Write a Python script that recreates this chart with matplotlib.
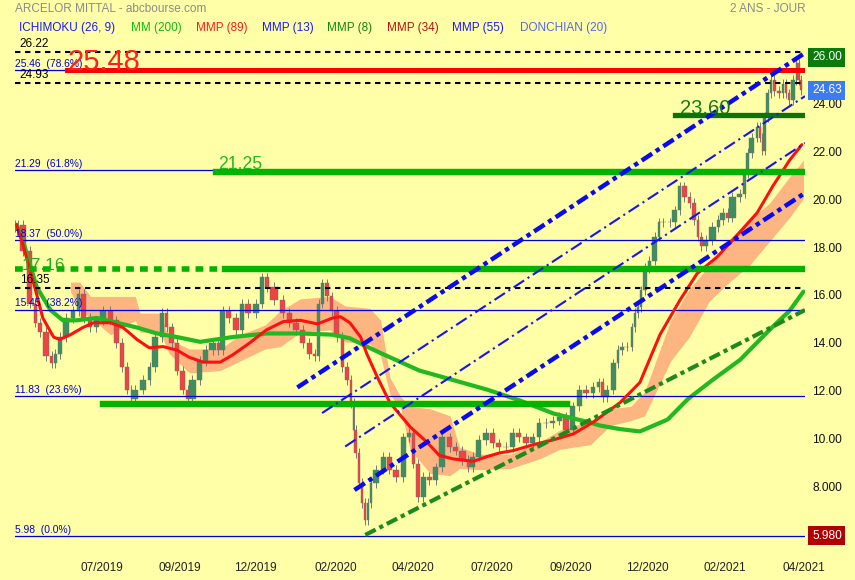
import matplotlib.pyplot as plt
import matplotlib.transforms as mtransforms
import numpy as np

plt.rcParams['font.family'] = ['Liberation Sans', 'DejaVu Sans']

# price samples: trading-day index (0 = start of the 2-year window) and close
days = [1, 3, 8, 12, 15, 18, 23, 25, 28, 31, 36, 40, 43, 47, 51, 55, 60, 64, 68, 71,
        75, 76, 81, 86, 89, 94, 97, 100, 104, 107, 111, 113, 118, 122, 126, 131, 133, 137, 141, 146,
        149, 154, 159, 162, 165, 172, 176, 180, 185, 189, 193, 196, 198, 201, 204, 207, 211, 214, 217, 219,
        220, 222, 224, 226, 228, 230, 232, 237, 241, 245, 250, 254, 257, 260, 263, 267, 271, 275, 280, 284,
        288, 293, 295, 299, 303, 308, 312, 316, 321, 325, 329, 334, 338, 342, 347, 351, 355, 360, 364, 368,
        373, 377, 380, 382, 386, 390, 392, 395, 399, 401, 403, 405, 407, 410, 413, 417, 418, 423, 426, 430,
        432, 436, 439, 442, 444, 446, 450, 455, 457, 461, 463, 468, 472, 474, 476, 480, 482, 484, 485, 487,
        489, 491, 494, 497, 499, 501, 503, 506, 507, 509, 510]
closes = [18.9, 19.0, 17.9, 15.7, 14.9, 14.5, 13.5, 13.2, 13.6, 14.3, 15.1, 15.4, 16.1, 15.1, 14.7, 15.0, 15.4, 15.0, 14.05, 13.05,
          12.1, 11.7, 12.1, 12.5, 13.05, 14.3, 15.3, 14.7, 14.05, 12.9, 12.1, 11.7, 12.5, 13.3, 13.75, 14.05, 13.75, 15.4, 15.1, 14.6,
          15.7, 15.3, 15.7, 16.8, 16.4, 15.85, 15.3, 14.9, 14.6, 14.05, 13.6, 13.5, 15.7, 16.55, 16.0, 15.4, 14.3, 13.05, 12.5, 11.55,
          10.4, 9.45, 8.2, 7.35, 6.65, 7.35, 8.2, 8.75, 9.3, 8.75, 8.45, 10.1, 10.3, 9.0, 7.6, 8.45, 8.3, 8.85, 10.1, 9.7,
          9.55, 9.15, 8.85, 9.3, 10.0, 10.3, 9.85, 9.7, 9.7, 10.3, 10.1, 9.85, 10.1, 10.7, 10.7, 10.8, 10.95, 10.4, 11.4, 12.1,
          11.95, 12.2, 12.4, 11.8, 12.1, 13.2, 13.75, 13.9, 13.9, 14.7, 15.3, 15.55, 16.25, 17.2, 17.5, 18.5, 19.1, 19.1, 19.1, 19.6,
          20.6, 20.15, 19.9, 19.2, 18.5, 18.1, 18.35, 18.9, 19.2, 19.5, 19.3, 20.15, 20.3, 21.15, 22.0, 22.65, 23.1, 22.65, 22.1, 23.5,
          24.5, 25.05, 24.6, 24.5, 24.9, 24.5, 24.2, 25.05, 25.75, 25.05, 24.63]
first_open = 19.0

# MM (200)
ma200_days = [1, 5, 14, 23, 31, 40, 53, 66, 79, 92, 105, 120, 141, 163, 185, 206, 217, 228, 238, 250,
              262, 284, 306, 327, 349, 371, 379, 392, 405, 423, 436, 452, 470, 489, 502, 511]
ma200 = [19.0, 18.36, 16.4, 15.43, 15.0, 15.0, 15.1, 14.9, 14.7, 14.45, 14.3, 14.1, 14.3, 14.45, 14.45, 14.4, 14.25, 13.9, 13.6, 13.25,
         12.9, 12.5, 12.1, 11.65, 11.1, 10.75, 10.6, 10.45, 10.35, 10.85, 11.7, 12.5, 13.35, 14.6, 15.4, 16.2]

# MMP (red)
mmp_days = [1, 5, 14, 18, 25, 29, 36, 44, 51, 62, 70, 79, 87, 96, 105, 113, 122, 133, 141, 152,
            163, 174, 185, 196, 206, 211, 217, 224, 228, 235, 243, 256, 267, 275, 284, 297, 306, 314, 323, 336,
            349, 362, 375, 392, 405, 418, 431, 442, 455, 465, 481, 491, 502, 510]
mmp = [19.0, 18.2, 16.1, 15.1, 14.3, 14.2, 14.4, 14.7, 14.9, 14.9, 14.7, 14.2, 13.85, 13.9, 13.75, 13.45, 13.25, 13.25, 13.55, 14.05,
       14.6, 14.95, 15.0, 14.85, 15.1, 15.15, 14.9, 14.3, 13.6, 12.6, 11.55, 10.55, 9.9, 9.35, 9.2, 9.1, 9.3, 9.45, 9.55, 9.8,
       10.0, 10.25, 10.75, 11.55, 12.4, 14.4, 15.85, 16.95, 17.65, 18.35, 19.5, 20.6, 21.7, 22.35]

# Ichimoku cloud edges
cloud_days = [36, 42, 49, 62, 78, 81, 94, 100, 113, 133, 146, 162, 172, 185, 204, 214, 230, 237, 243, 250,
              256, 269, 282, 288, 301, 321, 340, 353, 373, 386, 399, 408, 425, 437, 450, 463, 476, 489, 502, 511]
cloud_top = [16.6, 16.6, 16.0, 16.0, 16.0, 15.3, 15.3, 14.2, 13.8, 13.8, 14.4, 14.8, 15.4, 15.9, 16.0, 15.6, 15.5, 15.0, 12.6, 11.8,
             11.4, 11.3, 11.0, 9.7, 9.4, 9.4, 9.9, 10.4, 10.8, 11.3, 11.4, 12.0, 15.0, 16.3, 17.3, 18.4, 19.2, 19.9, 21.0, 21.7]
cloud_bot = [16.2, 15.4, 15.1, 14.4, 15.0, 14.5, 14.5, 13.6, 12.8, 12.9, 13.3, 13.8, 13.9, 14.5, 14.6, 14.1, 14.0, 13.5, 11.9, 11.3,
             9.6, 8.6, 8.5, 8.8, 8.75, 8.8, 9.2, 9.6, 9.8, 10.6, 10.8, 11.0, 13.3, 14.3, 15.8, 16.6, 17.3, 18.3, 19.3, 20.1]

fib_levels = [25.46, 21.29, 18.37, 15.45, 11.83, 5.98]
fib_pcts = ['78.6%', '61.8%', '50.0%', '38.2%', '23.6%', '0.0%']
dashed_levels = [26.22, 24.93, 16.35]

# channel lines drawn on the chart: (day0, day1), (price0, price1)
blue_thick = [((183, 512), (12.19, 26.19)), ((220, 512), (7.9, 20.33))]
blue_thin = [((199, 512), (11.12, 24.38)), ((214, 512), (9.72, 22.42))]
green_trend = ((227, 512), (6.02, 15.43))

date_pos = [56, 107, 156, 208, 258, 309, 360, 410, 460, 511]
date_labels = ['07/2019', '09/2019', '12/2019', '02/2020', '04/2020',
               '07/2020', '09/2020', '12/2020', '02/2021', '04/2021']
right_ticks = [24, 22, 20, 18, 16, 14, 12, 10, 8]
right_labels = ['24.00', '22.00', '20.00', '18.00', '16.00', '14.00', '12.00', '10.00', '8.000']

legend = [('ICHIMOKU (26, 9)', '#1a1aff'), ('MM (200)', '#11bb11'), ('MMP (89)', '#ff1a1a'),
          ('MMP (13)', '#1a1aff'), ('MMP (8)', '#118811'), ('MMP (34)', '#bb1111'),
          ('MMP (55)', '#1a1aff'), ('DONCHIAN (20)', '#5566ee')]
legend_x = [19, 131, 196, 262, 327, 387, 452, 520]

bg = '#FFFFA8'
fig = plt.figure(figsize=(8.55, 5.8), dpi=100)
fig.patch.set_facecolor(bg)
ax = fig.add_axes([15 / 855, 1 - 555 / 580, 790 / 855, 515 / 580])
ax.set_facecolor(bg)
ax.set_xlim(0, 512)
ax.set_ylim(5.18, 26.73)
for s in ax.spines.values():
    s.set_visible(False)
ax.set_xticks([])
ax.set_yticks([])

# cloud
ax.fill_between(cloud_days, cloud_bot, cloud_top, color='#FDB582', lw=0, zorder=1)

# candles
d = np.array(days, dtype=float)
c = np.array(closes)
o = np.array([first_open] + closes[:-1])
left = np.concatenate([[d[0] - 1.5], d[:-1]])
w = (d - left) * 0.8
cols = np.where(c >= o, '#3E8E62', '#EE4444')
mid = left + w / 2
ax.vlines(mid, np.minimum(o, c) - 0.2, np.maximum(o, c) + 0.2, color='#777777', lw=0.7, zorder=2)
ax.bar(left, c - o, bottom=o, width=w, align='edge', color=cols,
       edgecolor='#6f6f6f', lw=0.3, zorder=3)

# moving averages
ax.plot(ma200_days, ma200, color='#22B822', lw=3.0, zorder=4, solid_capstyle='round')
ax.plot(mmp_days, mmp, color='#FF1010', lw=2.2, zorder=5, solid_capstyle='round')

# fibonacci levels
for lv, pct in zip(fib_levels, fib_pcts):
    ax.axhline(lv, color='#0000DD', lw=0.9, zorder=4)
    ax.text(0, lv + 0.05, f'{lv:.2f}  ({pct})', color='#0000DD', fontsize=7.4,
            ha='left', va='bottom', zorder=8)

for lv in dashed_levels:
    ax.axhline(lv, color='black', lw=1.5, dashes=(2.6, 2.2), zorder=6)
    ax.text(3, lv + 0.08, f'{lv:.2f}', color='black', fontsize=8.5, ha='left', va='bottom', zorder=8)

# support / resistance lines
ax.plot([34, 512], [25.48, 25.48], color='#FF0000', lw=3.6, zorder=6)
ax.text(34, 25.48, '25.48', color='#FF2020', fontsize=21, ha='left', va='baseline', zorder=8)
ax.plot([428, 512], [23.6, 23.6], color='#0C740C', lw=3.8, zorder=6)
ax.text(431, 23.62, '23.60', color='#157A15', fontsize=14.5, ha='left', va='baseline', zorder=8)
ax.plot([130, 512], [21.2, 21.2], color='#00B400', lw=4.6, zorder=6)
ax.text(131.5, 21.35, '21.25', color='#22BB22', fontsize=12.7, ha='left', va='baseline', zorder=8)
ax.plot([136, 512], [17.16, 17.16], color='#00B400', lw=4.6, zorder=6)
ax.plot([0, 136], [17.16, 17.16], color='#00B400', lw=4.0, dashes=(1.4, 1.1), zorder=6)
ax.text(4.5, 17.12, '17.16', color='#22AA22', fontsize=12.4, ha='left', va='baseline', zorder=8)
ax.plot([57, 358], [11.5, 11.5], color='#00B400', lw=4.6, zorder=6)

# channels
for xs, ys in blue_thick:
    ax.plot(xs, ys, color='#0A0AF0', lw=3.2, dashes=(2.8, 1, 1, 1), zorder=7)
for xs, ys in blue_thin:
    ax.plot(xs, ys, color='#1515F0', lw=1.5, dashes=(6, 2, 1, 2), zorder=7)
ax.plot(green_trend[0], green_trend[1], color='#1E8A1E', lw=3.0, dashes=(2.8, 1, 1, 1), zorder=7)

# right axis labels
ty = mtransforms.blended_transform_factory(fig.transFigure, ax.transData)
rx = 812 / 855
for v, lab in zip(right_ticks, right_labels):
    fig.text(rx, v, lab, transform=ty, fontsize=8.6, color='#111111', va='center', ha='left')
for v, lab, col in [(26.0, '26.00', '#0B7A0B'), (24.63, '24.63', '#3D7BF0'), (5.98, '5.980', '#B00000')]:
    fig.text(rx, v, lab, transform=ty, fontsize=8.6, color='white', va='center', ha='left',
             bbox=dict(boxstyle='square,pad=0.3', fc=col, ec='none'))

# date labels
tx = mtransforms.blended_transform_factory(ax.transData, fig.transFigure)
for p, lab in zip(date_pos, date_labels):
    fig.text(p, 1 - 568 / 580, lab, transform=tx, fontsize=8.5, color='#222222', ha='center', va='center')

# header
fig.text(15 / 855, 1 - 9 / 580, 'ARCELOR MITTAL - abcbourse.com', color='#8a8a8a', fontsize=8.5, va='center')
fig.text(806 / 855, 1 - 9 / 580, '2 ANS - JOUR', color='#8a8a8a', fontsize=8.5, va='center', ha='right')
for (lab, col), x in zip(legend, legend_x):
    fig.text(x / 855, 1 - 28 / 580, lab, color=col, fontsize=8.5, va='center')

fig.savefig('out.png', dpi=100, facecolor=bg)
